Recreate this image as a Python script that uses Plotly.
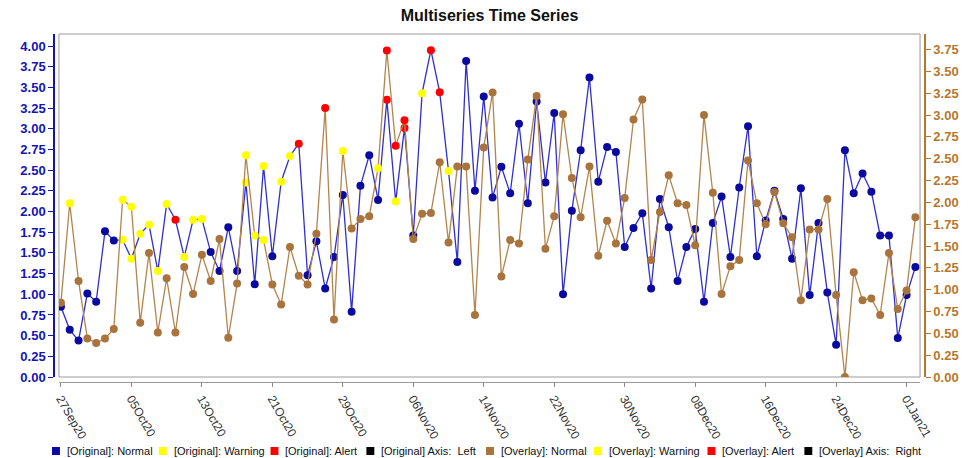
import pandas as pd
import plotly.graph_objects as go

# ---------------- data ----------------
start_date = "2020-09-27"
n_days = 98
dates = pd.date_range(start_date, periods=n_days, freq="D")

original_values = [
    0.85, 0.57, 0.44, 1.01, 0.91, 1.76, 1.65, 1.66, 1.43, 1.73,
    1.84, 1.28, 2.09, 1.90, 1.45, 1.90, 1.91, 1.51, 1.28, 1.81,
    1.28, 2.35, 1.12, 2.55, 1.46, 2.36, 2.67, 2.82, 1.23, 1.64,
    1.07, 1.45, 2.20, 0.79, 2.31, 2.68, 2.14, 3.35, 2.12, 3.01,
    1.71, 3.43, 3.95, 3.44, 2.49, 1.39, 3.82, 2.25, 3.39, 2.17,
    2.54, 2.22, 3.06, 2.10, 3.33, 2.35, 3.19, 1.00, 2.01, 2.74,
    3.62, 2.36, 2.78, 2.72, 1.57, 1.80, 1.98, 1.07, 2.15, 1.81,
    1.16, 1.57, 1.79, 0.91, 1.86, 2.18, 1.45, 2.29, 3.03, 1.46,
    1.89, 2.25, 1.91, 1.43, 2.28, 0.99, 1.86, 1.02, 0.39, 2.74,
    2.22, 2.46, 2.24, 1.71, 1.71, 0.47, 0.99, 1.33,
]
original_status = [
    "N", "N", "N", "N", "N", "N", "N", "W", "W", "W",
    "W", "W", "W", "A", "W", "W", "W", "N", "N", "N",
    "N", "W", "N", "W", "N", "W", "W", "A", "N", "N",
    "N", "N", "N", "N", "N", "N", "N", "A", "W", "A",
    "N", "W", "A", "A", "W", "N", "N", "N", "N", "N",
] + ["N"] * 48

overlay_values = [
    0.85, 1.99, 1.10, 0.44, 0.39, 0.44, 0.55, 2.03, 1.95, 0.62,
    1.42, 0.51, 1.13, 0.51, 1.26, 0.95, 1.40, 1.10, 1.58, 0.45,
    1.07, 2.54, 1.62, 1.57, 1.06, 0.83, 1.49, 1.16, 1.06, 1.64,
    3.08, 0.66, 2.59, 1.70, 1.81, 1.84, 2.39, 3.74, 2.65, 2.94,
    1.58, 1.87, 1.88, 2.46, 1.54, 2.41, 2.41, 0.71, 2.63, 3.26,
    1.15, 1.57, 1.53, 2.49, 3.22, 1.47, 1.84, 3.01, 2.28, 1.83,
    2.41, 1.39, 1.79, 1.53, 2.05, 2.95, 3.18, 1.34, 1.89, 2.31,
    1.99, 1.97, 1.51, 3.00, 2.11, 0.95, 1.27, 1.34, 2.48, 1.99,
    1.75, 2.12, 1.76, 1.60, 0.88, 1.69, 1.69, 2.04, 0.94, 0.00,
    1.20, 0.88, 0.90, 0.71, 1.42, 0.78, 0.99, 1.83,
]
overlay_status = [
    "N", "W", "N", "N", "N", "N", "N", "W", "W", "N",
    "N", "N", "N", "N", "N", "N", "N", "N", "N", "N",
    "N", "W", "W", "W", "N", "N", "N", "N", "N", "N",
    "A", "N", "W", "N", "N", "N", "W", "A", "A", "A",
] + ["N"] * 58

legend_labels = [
    "[Original]: Normal", "[Original]: Warning", "[Original]: Alert",
    "[Original] Axis:  Left", "[Overlay]: Normal", "[Overlay]: Warning",
    "[Overlay]: Alert", "[Overlay] Axis:  Right",
]
title_text = "Multiseries Time Series"

# ---------------- styles ----------------
BLUE_MARK = "#0a0aa0"
BLUE_LINE = "#2f2fd2"
BROWN_MARK = "#a8743c"
BROWN_LINE = "#b3844c"
YELLOW = "#ffff00"
RED = "#ff0000"
LEFT_AX = "#1414b4"
RIGHT_AX = "#b8772e"

orig_cmap = {"N": BLUE_MARK, "W": YELLOW, "A": RED}
over_cmap = {"N": BROWN_MARK, "W": YELLOW, "A": RED}
legend_colors = [BLUE_MARK, YELLOW, RED, "#000000", BROWN_MARK, YELLOW, RED, "#000000"]

# the page body adds an 8px margin, so the figure is drawn 8px smaller
OFF = 8
W, H = 971 - OFF, 458 - OFF
ML, MR, MT, MB = 50 - OFF, 40, 34 - OFF, 76
PW = W - ML - MR
PH = H - MT - MB

fig = go.Figure()
fig.add_trace(go.Scatter(
    x=dates, y=overlay_values, yaxis="y2", mode="lines+markers",
    line=dict(color=BROWN_LINE, width=1.3),
    marker=dict(size=8, color=[over_cmap[s] for s in overlay_status], line=dict(width=0)),
    showlegend=False, name="Overlay",
))
fig.add_trace(go.Scatter(
    x=dates, y=original_values, yaxis="y", mode="lines+markers",
    line=dict(color=BLUE_LINE, width=1.3),
    marker=dict(size=8, color=[orig_cmap[s] for s in original_status], line=dict(width=0)),
    showlegend=False, name="Original",
))

day_ms = 86400000
x0 = pd.Timestamp(start_date) - pd.Timedelta(hours=5.4)
x1 = pd.Timestamp(start_date) + pd.Timedelta(days=n_days - 1) + pd.Timedelta(hours=12.7)

fig.update_layout(
    width=W, height=H,
    margin=dict(l=ML, r=MR, t=MT, b=MB, pad=0),
    paper_bgcolor="white", plot_bgcolor="white",
    font=dict(family="Liberation Sans, Arial, sans-serif", size=12, color="#222"),
    title=dict(text="<b>" + title_text + "</b>", x=0.5, xref="paper",
               y=1 - (15 - OFF) / H, yanchor="middle", yref="container",
               font=dict(size=16, color="#111", family="Liberation Sans, Arial, sans-serif")),
    xaxis=dict(
        domain=[5 / PW, 1 - 5 / PW], anchor="free", position=0,
        type="date", range=[x0, x1],
        tick0=start_date, dtick=8 * day_ms, tickformat="%d%b%y",
        tickangle=60, ticks="outside", ticklen=4, tickcolor="#888",
        showline=True, linecolor="#999", linewidth=1,
        showgrid=False, zeroline=False,
        tickfont=dict(size=12, color="#333"),
    ),
    yaxis=dict(
        domain=[5 / PH, 1], anchor="free", position=0,
        range=[0, 4.145], tick0=0, dtick=0.25, tickformat=".2f",
        ticks="outside", ticklen=5, tickcolor=LEFT_AX,
        showline=True, linecolor=LEFT_AX, linewidth=1.5,
        showgrid=False, zeroline=False,
        tickfont=dict(size=13, color=LEFT_AX, family="Liberation Sans, Arial, sans-serif", weight="bold"),
    ),
    yaxis2=dict(
        overlaying="y", side="right", anchor="free", position=1,
        range=[0, 3.929], tick0=0, dtick=0.25, tickformat=".2f",
        ticks="outside", ticklen=5, tickcolor=RIGHT_AX,
        showline=True, linecolor=RIGHT_AX, linewidth=1.5,
        showgrid=False, zeroline=False,
        tickfont=dict(size=13, color=RIGHT_AX, family="Liberation Sans, Arial, sans-serif", weight="bold"),
    ),
    showlegend=False,
)

# plot frame
fig.add_shape(type="rect", xref="x domain", yref="y domain", x0=0, x1=1, y0=0, y1=1,
              line=dict(color="#9a9a9a", width=1), fillcolor="rgba(0,0,0,0)", layer="below")

# legend row (square + label); positions in page pixels
legend_px = [48, 156, 269, 366, 487, 596, 711, 809]
ly_px = 451 - OFF
ly = (H - MB - ly_px) / PH
sq = 8
for px, lab, col in zip(legend_px, legend_labels, legend_colors):
    fx = px - OFF
    fig.add_shape(type="rect", xref="paper", yref="paper",
                  x0=(fx - ML) / PW, x1=(fx + sq - ML) / PW,
                  y0=ly - (sq / 2) / PH, y1=ly + (sq / 2) / PH,
                  line=dict(width=0), fillcolor=col)
    fig.add_annotation(xref="paper", yref="paper", x=(fx + sq + 5 - ML) / PW, y=ly,
                       xanchor="left", yanchor="middle", text=lab, showarrow=False,
                       font=dict(size=11, color="#111", family="Liberation Sans, Arial, sans-serif"))

fig.write_html("out.html")
